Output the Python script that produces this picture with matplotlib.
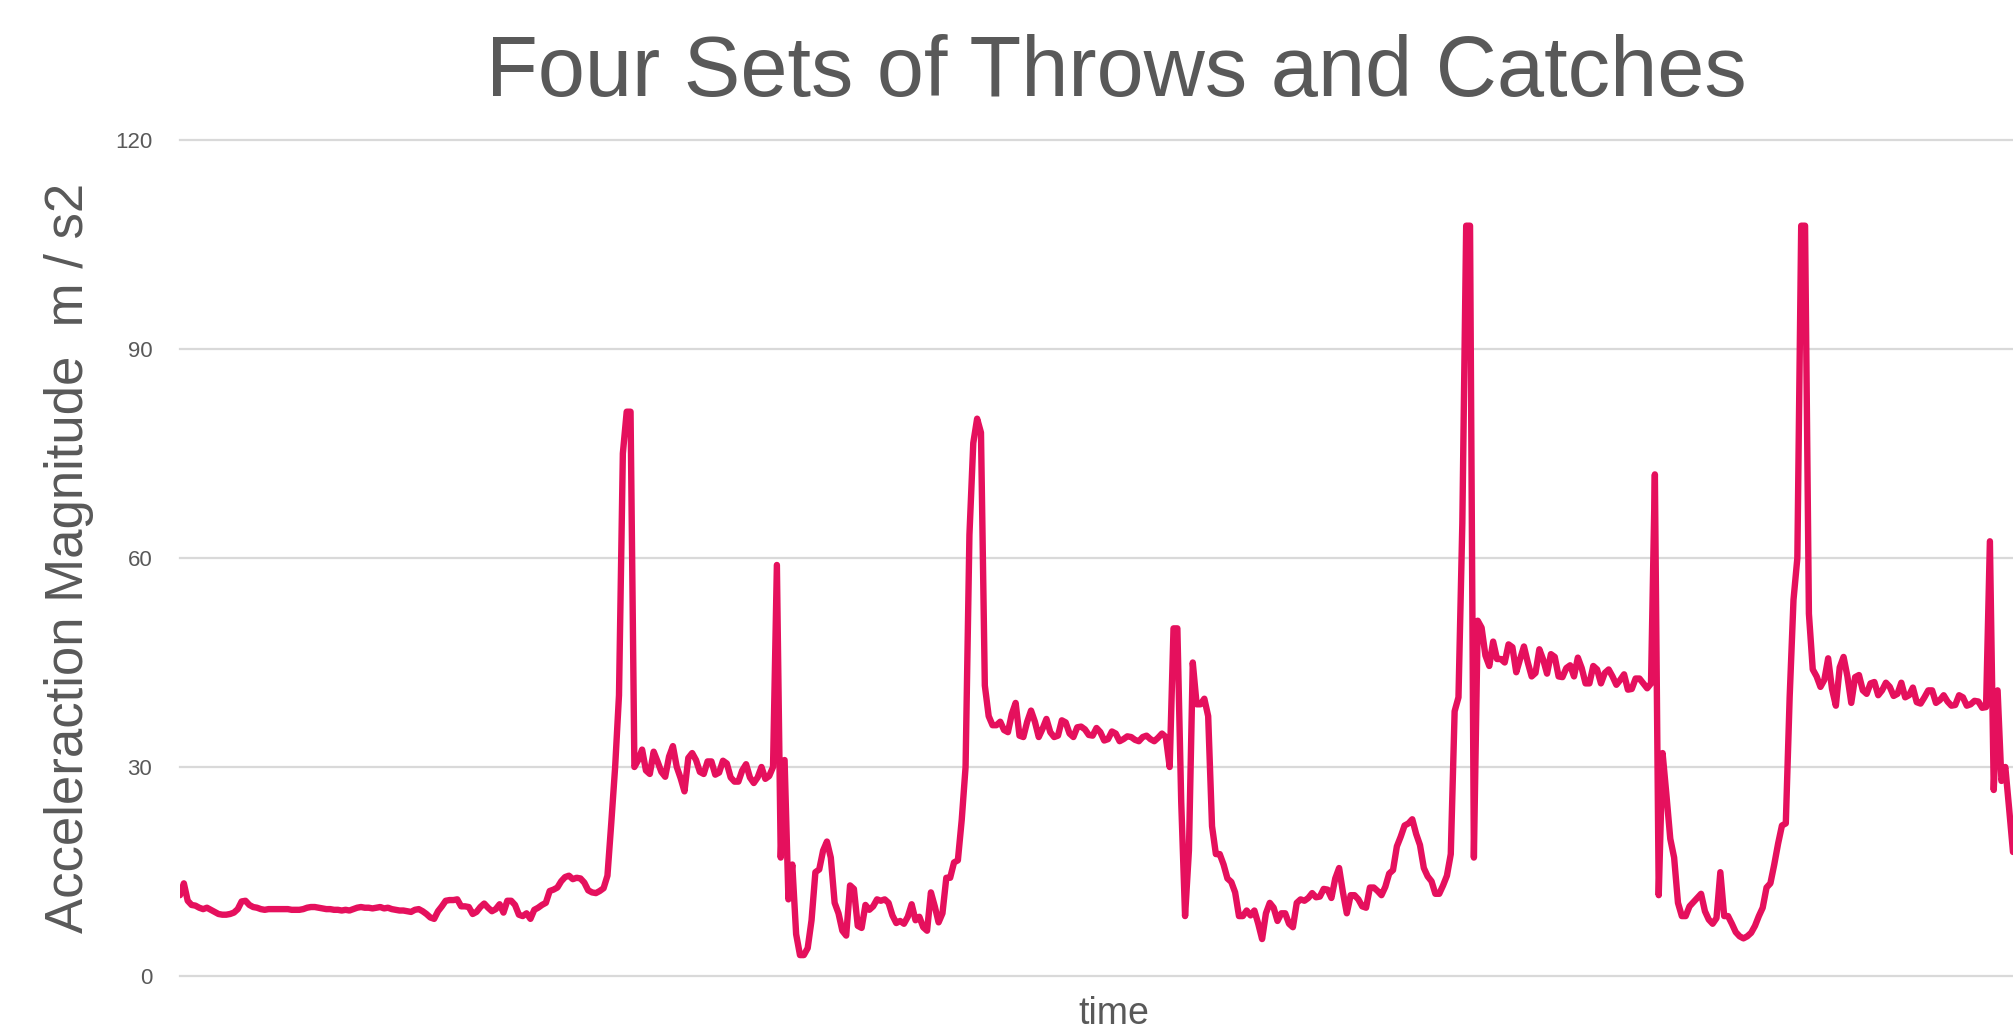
import numpy as np
from matplotlib import pyplot as plt

filename = 'out.png'

# acceleration magnitude samples (m/s2)
rest = [
    11.6, 13.3, 10.8, 10.2, 10.1, 9.8, 9.6, 9.8, 9.5, 9.2,
    8.9, 8.8, 8.8, 8.9, 9.1, 9.6, 10.7, 10.8, 10.2, 9.9,
    9.8, 9.6, 9.5, 9.6, 9.6, 9.6, 9.6, 9.6, 9.6, 9.5,
    9.5, 9.5, 9.6, 9.8, 9.9, 9.9, 9.8, 9.7, 9.6, 9.6,
    9.5, 9.5, 9.4, 9.5, 9.4, 9.6, 9.8, 9.9, 9.8, 9.8,
    9.7, 9.8, 9.9, 9.7, 9.8, 9.6, 9.5, 9.4, 9.4, 9.3,
    9.2, 9.5, 9.6, 9.3, 8.9, 8.4, 8.2, 9.3, 10.0, 10.8,
    10.9, 10.9, 11.0, 10.0, 10.0, 9.9, 8.9, 9.2, 9.9, 10.4,
    9.8, 9.3, 9.6, 10.3, 9.1, 10.8,
    10.8, 10.2, 8.8, 8.6, 9.0, 8.2, 9.5, 9.8, 10.2, 10.5,
    12.2, 12.4, 12.7, 13.6, 14.2, 14.4, 13.9, 14.1, 14.0, 13.4,
    12.3, 12.0, 11.9, 12.2, 12.6,
]
throw_1 = [
    14.4, 22, 30, 40.3, 75, 81, 81, 30, 31, 32.5,
    29.5, 29, 32.2, 30.8, 29.3, 28.6, 31.5, 33, 30, 28.4,
    26.5, 31.3, 32, 31, 29.3, 29, 30.8, 30.8, 28.9, 29.2,
    30.9, 30.5, 28.5, 27.9, 27.9, 29.5, 30.4, 28.5, 27.7, 28.5,
    30, 28.3, 28.7, 30, 59, 17, 31, 11, 16, 6,
    3, 3, 4, 8, 14.9, 15.3, 18, 19.3, 17, 10.5,
    9,
]
throw_2 = [
    6.5, 5.8, 13, 12.5, 7.2, 6.9, 10.2, 9.5, 10, 11,
    10.8, 11, 10.5, 8.7, 7.6, 7.9, 7.5, 8.5, 10.3, 8,
    8.5, 7, 6.5, 12, 10, 7.7, 9, 14.1, 14.1, 16.3,
    16.6, 22.4, 30, 63.3, 76.5, 80, 78, 41.7, 37.3, 36,
    36, 36.5, 35.3, 35, 37.6, 39.2, 34.5, 34.3, 36.5, 38.1,
    36.5, 34.3, 35.5, 36.9, 35, 34.3, 34.5, 36.7, 36.4, 34.8,
    34.3, 35.7, 35.8, 35.4, 34.6, 34.5, 35.6, 35, 33.8, 34,
    35.1, 34.8, 33.7, 34, 34.4, 34.3, 33.9, 33.7, 34.3, 34.5,
    34, 33.7, 34.2, 34.8, 34.3, 30,
]
throw_3 = [
    49.9, 49.9, 25, 8.6, 18, 45, 39, 39, 39.8, 37.3,
    21.5, 17.5, 17.5, 16, 14, 13.5, 12, 8.6, 8.6, 9.4,
    8.7, 9.4, 7.5, 5.3, 9, 10.5, 9.8, 7.9, 9, 9,
    7.5, 7, 10.5, 11, 10.8, 11.2, 11.9, 11.3, 11.4, 12.5,
    12.4, 11.2, 14, 15.5, 12, 9, 11.6, 11.6, 11, 10,
    9.8, 12.7, 12.7, 12.2, 11.6, 12.8, 14.7, 15.2, 18.6, 20,
    21.6, 21.9, 22.5, 20.4, 18.8, 15.5, 14.3, 13.6, 11.8, 11.8,
    13, 14.4, 17.5, 38, 40, 65, 107.7, 107.7, 17, 51,
    50, 46, 44.5, 48, 45.5,
]
throw_4 = [
    45.5, 45, 47.6, 47.2, 43.6, 45.5, 47.3, 45, 43, 43.5,
    46.9, 45.4, 43.4, 46.2, 45.8, 43, 42.9, 44.2, 44.6, 43,
    45.7, 44.2, 42, 42, 44.5, 44, 42, 43.5, 44, 43,
    41.8, 42.5, 43.3, 41.1, 41.2, 42.7, 42.7, 42, 41.3, 42,
    72, 11.6, 32, 26, 19.7, 17, 10.5, 8.6, 8.6, 10,
    10.6, 11.2, 11.8, 9.3, 8.1, 7.5, 8.3, 14.9, 8.6, 8.6,
    7.5, 6.3, 5.7, 5.4, 5.7, 6.2, 7.2, 8.6, 9.8, 12.7,
    13.3, 16, 19, 21.6, 21.9, 40, 54, 60, 107.7, 107.7,
    52, 44, 43, 41.5, 42.5, 45.6,
]
tail = [
    41.2, 38.8, 44.3, 45.8, 43, 39.2, 42.9, 43.2, 41, 40.5,
    42, 42.2, 40.3, 41, 42.1, 41.5, 40.2, 40.5, 42.1, 40,
    40.3, 41.4, 39.3, 39.1, 40, 41, 41, 39.2, 39.6, 40.3,
    39.4, 38.8, 38.9, 40.3, 40, 38.8, 39, 39.5, 39.4, 38.5,
    38.6, 62.4, 26.7, 41, 28, 30, 24, 17.8,
]
y_ticks = [0, 30, 60, 90, 120]

accel = np.array(rest + throw_1 + throw_2 + throw_3 + throw_4 + tail)
time = np.arange(len(accel))

text_color = '#595959'
line_color = '#E5105D'
grid_color = '#D9D9D9'

plt.rcParams['font.family'] = ['Liberation Sans', 'DejaVu Sans']

fig = plt.figure(figsize=(20.13, 10.29), dpi=100)
ax = fig.add_axes([180 / 2013, 1 - 976 / 1029, 1 - 180 / 2013, (976 - 140) / 1029])

ax.plot(time, accel, color=line_color, linewidth=4.6,
        solid_joinstyle='round', solid_capstyle='round')

ax.set_xlim(0, len(accel) - 1)
ax.set_ylim(0, 120)
ax.set_yticks(y_ticks)
ax.set_xticks([])
ax.tick_params(axis='y', length=0, pad=20, labelsize=16, labelcolor=text_color)
plt.setp(ax.spines.values(), visible=False)

ax.set_axisbelow(True)
ax.yaxis.grid(True, color=grid_color, linewidth=1.6)
for gl in ax.get_ygridlines():
    gl.set_clip_on(False)

fig.text(0.5545, 1 - 96 / 1029, 'Four Sets of Throws and Catches', ha='center', va='baseline',
         fontsize=61, color=text_color)
fig.text(0.0343, 1 - 558 / 1029, 'Acceleraction Magnitude  m / s2', ha='center', va='center',
         rotation=90, fontsize=38, color=text_color)
fig.text(0.5535, 1 - 1024 / 1029, 'time', ha='center', va='baseline', fontsize=27, color=text_color)

plt.savefig(filename, dpi=100)
plt.close()
